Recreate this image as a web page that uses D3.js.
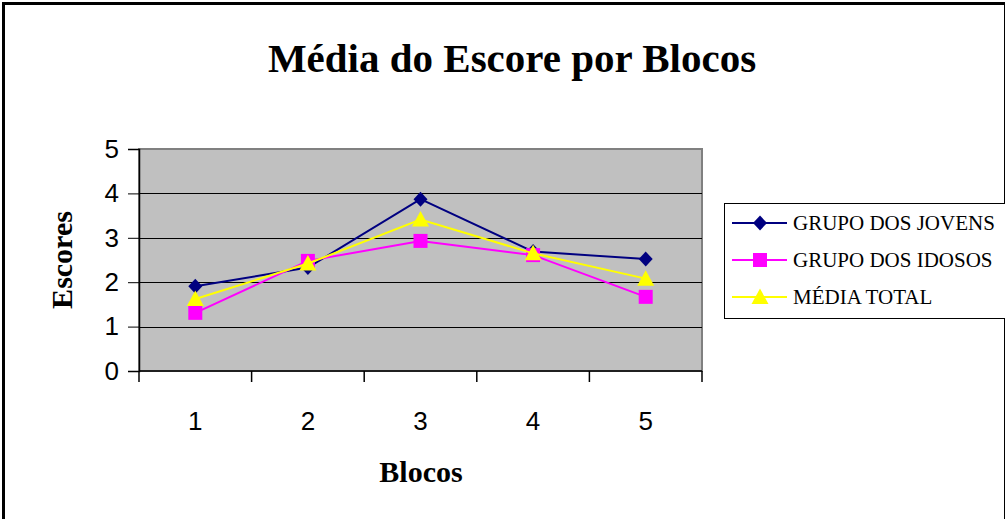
<!DOCTYPE html>
<html>
<head>
<meta charset="utf-8">
<script src="https://cdn.jsdelivr.net/npm/d3@7"></script>
<style>
  html, body { margin: 0; padding: 0; background: #ffffff; }
  svg { display: block; }
</style>
</head>
<body>
<svg id="chart" width="1005" height="519"></svg>
<script>
// Blocks on the x axis and mean scores per group
const blocos = ["1", "2", "3", "4", "5"];
const jovens = [1.91, 2.33, 3.87, 2.69, 2.52];
const idosos = [1.31, 2.48, 2.93, 2.61, 1.67];
const mediaTotal = [1.62, 2.42, 3.41, 2.65, 2.08];
const yTicks = [0, 1, 2, 3, 4, 5];

const series = [
  { name: "GRUPO DOS JOVENS", values: jovens, color: "#000080", symbol: "diamond" },
  { name: "GRUPO DOS IDOSOS", values: idosos, color: "#FF00FF", symbol: "square" },
  { name: "MÉDIA TOTAL", values: mediaTotal, color: "#FFFF00", symbol: "triangle" }
];

const svg = d3.select("#chart");
const W = 1005, H = 519;

// Outer chart frame
svg.append("rect")
  .attr("x", 3.5).attr("y", 3.5)
  .attr("width", W - 3).attr("height", H)
  .attr("fill", "#ffffff").attr("stroke", "#000000").attr("stroke-width", 3);

const plot = { left: 139, right: 702, top: 149, bottom: 371 };

const x = d3.scaleBand().domain(blocos).range([plot.left, plot.right]).padding(0);
const y = d3.scaleLinear().domain([0, 5]).range([plot.bottom, plot.top]);

// Plot background
svg.append("rect")
  .attr("x", plot.left).attr("y", plot.top)
  .attr("width", plot.right - plot.left).attr("height", plot.bottom - plot.top)
  .attr("fill", "#C0C0C0").attr("stroke", "#808080").attr("stroke-width", 2);

// Horizontal gridlines
svg.append("g").selectAll("line")
  .data(yTicks.filter(d => d > 0 && d < 5))
  .join("line")
  .attr("x1", plot.left).attr("x2", plot.right)
  .attr("y1", d => Math.round(y(d)) + 0.5).attr("y2", d => Math.round(y(d)) + 0.5)
  .attr("stroke", "#000000").attr("stroke-width", 1);

// Y axis
const yAxis = svg.append("g")
  .attr("transform", `translate(${plot.left},0)`)
  .call(d3.axisLeft(y).tickValues(yTicks).tickSize(11).tickPadding(9).tickFormat(d3.format("d")));
yAxis.select(".domain").attr("stroke", "#000000").attr("stroke-width", 1.5);
yAxis.selectAll(".tick line").attr("stroke", "#000000");
yAxis.selectAll("text")
  .attr("font-family", "Arial, 'Liberation Sans', sans-serif")
  .attr("font-size", 26).attr("fill", "#000000");

// X axis with ticks at category boundaries
const xAxisG = svg.append("g").attr("transform", `translate(0,${plot.bottom})`);
xAxisG.append("line")
  .attr("x1", plot.left).attr("x2", plot.right)
  .attr("y1", 0).attr("y2", 0)
  .attr("stroke", "#000000").attr("stroke-width", 1.5);
const boundaries = blocos.map(b => x(b)).concat([x(blocos[blocos.length - 1]) + x.bandwidth()]);
xAxisG.selectAll("line.tick")
  .data(boundaries)
  .join("line").attr("class", "tick")
  .attr("x1", d => d).attr("x2", d => d)
  .attr("y1", 0).attr("y2", 11)
  .attr("stroke", "#000000").attr("stroke-width", 1.5);
xAxisG.selectAll("text")
  .data(blocos)
  .join("text")
  .attr("x", d => x(d) + x.bandwidth() / 2)
  .attr("y", 59)
  .attr("text-anchor", "middle")
  .attr("font-family", "Arial, 'Liberation Sans', sans-serif")
  .attr("font-size", 26)
  .text(d => d);

// Title and axis titles
svg.append("text")
  .attr("x", 512).attr("y", 72)
  .attr("text-anchor", "middle")
  .attr("font-family", "'Times New Roman', 'Liberation Serif', serif")
  .attr("font-weight", "bold").attr("font-size", 41)
  .text("Média do Escore por Blocos");

svg.append("text")
  .attr("x", 421).attr("y", 482)
  .attr("text-anchor", "middle")
  .attr("font-family", "'Times New Roman', 'Liberation Serif', serif")
  .attr("font-weight", "bold").attr("font-size", 30)
  .text("Blocos");

svg.append("text")
  .attr("transform", "translate(72,260) rotate(-90)")
  .attr("text-anchor", "middle")
  .attr("font-family", "'Times New Roman', 'Liberation Serif', serif")
  .attr("font-weight", "bold").attr("font-size", 30)
  .text("Escores");

// Marker shapes
function markerPath(symbol) {
  if (symbol === "diamond") return "M0,-7.5L7,0L0,7.5L-7,0Z";
  if (symbol === "square") return "M-7,-7H7V7H-7Z";
  return "M0,-8.5L8.5,7H-8.5Z";
}

const line = d3.line()
  .x((d, i) => x(blocos[i]) + x.bandwidth() / 2)
  .y(d => y(d));

series.forEach(s => {
  const g = svg.append("g");
  g.append("path")
    .attr("d", line(s.values))
    .attr("fill", "none").attr("stroke", s.color).attr("stroke-width", 2);
  g.selectAll("path.m")
    .data(s.values)
    .join("path").attr("class", "m")
    .attr("transform", (d, i) => `translate(${x(blocos[i]) + x.bandwidth() / 2},${y(d)})`)
    .attr("d", markerPath(s.symbol))
    .attr("fill", s.color);
});

// Legend
const legend = svg.append("g");
legend.append("rect")
  .attr("x", 724.5).attr("y", 203.5)
  .attr("width", 290).attr("height", 115)
  .attr("fill", "#ffffff").attr("stroke", "#000000").attr("stroke-width", 1);

series.forEach((s, i) => {
  const cy = 223 + i * 37;
  legend.append("line")
    .attr("x1", 732).attr("x2", 787).attr("y1", cy).attr("y2", cy)
    .attr("stroke", s.color).attr("stroke-width", 2);
  legend.append("path")
    .attr("transform", `translate(760,${cy})`)
    .attr("d", markerPath(s.symbol))
    .attr("fill", s.color);
  legend.append("text")
    .attr("x", 793).attr("y", cy + 7)
    .attr("font-family", "'Times New Roman', 'Liberation Serif', serif")
    .attr("font-size", 21)
    .text(s.name);
});
</script>
</body>
</html>
